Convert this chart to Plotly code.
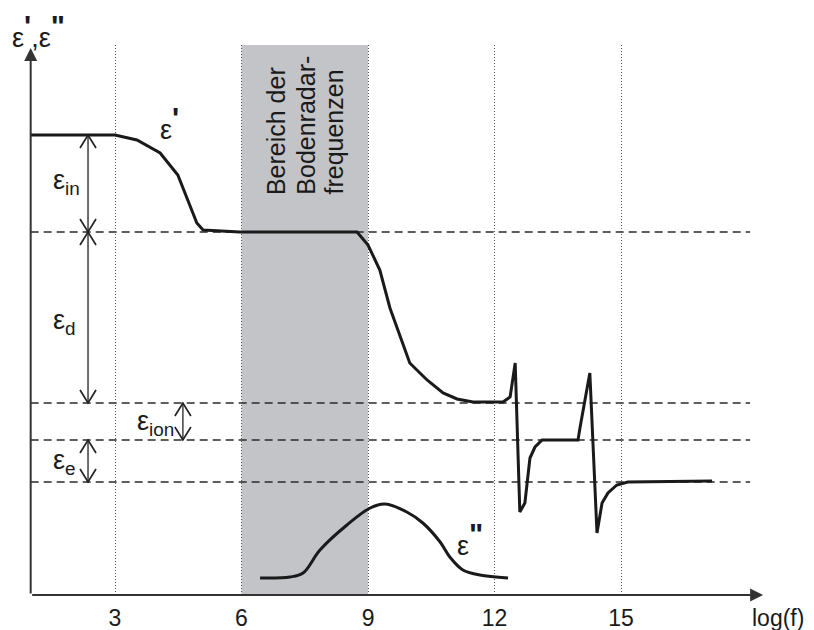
import plotly.graph_objects as go

# ---------------- data ----------------
# real part eps' versus log(f)
eps1_x = [1.0, 3.0, 3.52, 4.07, 4.49, 4.73, 4.94, 5.09, 5.96, 8.74, 9.0, 9.28, 9.52,
          9.99, 10.40, 10.78, 11.11, 11.49, 12.2, 12.37, 12.49, 12.60, 12.72, 12.84,
          12.96, 13.13, 13.98, 14.03, 14.26, 14.43, 14.55, 14.69, 14.90, 15.16, 17.16]
eps1_y = [46.0, 46.0, 45.5, 44.2, 42.0, 39.5, 37.2, 36.5, 36.3, 36.3, 35.0, 32.5, 28.7,
          23.2, 21.5, 20.2, 19.6, 19.3, 19.3, 19.8, 23.2, 8.3, 9.2, 13.7,
          14.8, 15.5, 15.5, 16.8, 22.2, 6.2, 9.2, 10.2, 11.0, 11.3, 11.4]
# imaginary part eps''
eps2_x = [6.44, 7.15, 7.46, 7.86, 8.50, 9.05, 9.40, 9.92, 10.30, 10.71, 10.94, 11.25, 11.65, 12.32]
eps2_y = [1.7, 1.8, 2.2, 4.5, 7.0, 8.7, 9.1, 8.3, 7.2, 5.3, 3.8, 2.5, 2.0, 1.7]

# plateau levels (top to bottom)
levels = [46.0, 36.3, 19.2, 15.5, 11.3]
dashed_levels = [36.3, 19.2, 15.5, 11.3]

tick_vals = [3, 6, 9, 12, 15]
tick_text = ["3", "6", "9", "12", "15"]

radar_band = [6, 9]
band_lines = ["Bereich der", "Bodenradar-", "frequenzen"]

X_MIN, X_MAX = 0.5098, 19.007
AX_X0 = 1.0
DASH_END = 18.06
FONT = "Liberation Sans, Arial, sans-serif"
TXT = "#1a1a1a"

fig = go.Figure()

fig.add_trace(go.Scatter(x=eps1_x, y=eps1_y, mode="lines",
                         line=dict(color="#1a1a1a", width=3), hoverinfo="skip"))
fig.add_trace(go.Scatter(x=eps2_x, y=eps2_y, mode="lines", line_shape="spline",
                         line=dict(color="#1a1a1a", width=3), hoverinfo="skip"))

shapes = []
for lv in dashed_levels:
    shapes.append(dict(type="line", xref="x", yref="y", x0=AX_X0, x1=DASH_END, y0=lv, y1=lv,
                       line=dict(color="#2a2a2a", width=1.3, dash="8px,5px"), layer="below"))
shapes.append(dict(type="rect", xref="x", yref="paper", x0=radar_band[0], x1=radar_band[1],
                   y0=0, y1=1, fillcolor="#c3c4c7", line=dict(width=0), layer="below"))

ARROW_COL = "#222222"
UP_V = "M-8,-13 L0,0 L8,-13"      # tip at anchor, points up
DOWN_V = "M-8,13 L0,0 L8,13"      # tip at anchor, points down


def double_arrow(xv, y_top, y_bot):
    out = [dict(type="line", xref="x", yref="y", x0=xv, x1=xv, y0=y_top, y1=y_bot,
                line=dict(color=ARROW_COL, width=1.3))]
    out.append(dict(type="path", xref="x", yref="y", xsizemode="pixel", ysizemode="pixel",
                    xanchor=xv, yanchor=y_top, path=UP_V,
                    line=dict(color=ARROW_COL, width=1.7)))
    out.append(dict(type="path", xref="x", yref="y", xsizemode="pixel", ysizemode="pixel",
                    xanchor=xv, yanchor=y_bot, path=DOWN_V,
                    line=dict(color=ARROW_COL, width=1.7)))
    return out


shapes += double_arrow(2.36, levels[0], levels[1])
shapes += double_arrow(2.36, levels[1], levels[2])
shapes += double_arrow(4.61, levels[2], levels[3])
shapes += double_arrow(2.36, levels[3], levels[4])
fig.update_layout(shapes=shapes)

ann = []
# axes with arrows
ann.append(dict(x=AX_X0, y=54.7, ax=AX_X0, ay=0, xref="x", yref="y", axref="x", ayref="y",
                text="", showarrow=True, arrowhead=2, arrowsize=1.3, arrowwidth=2,
                arrowcolor="#333333", standoff=0))
ann.append(dict(x=18.37, y=0, ax=AX_X0, ay=0, xref="x", yref="y", axref="x", ayref="y",
                text="", showarrow=True, arrowhead=2, arrowsize=1.3, arrowwidth=2,
                arrowcolor="#333333", standoff=0))


def label(x, y, text, size=27, **kw):
    d = dict(x=x, y=y, xref="x", yref="y", text=text, showarrow=False,
             xanchor="center", yanchor="middle",
             font=dict(family=FONT, size=size, color=TXT))
    d.update(kw)
    return d


PRIME1 = "<sup><span style='font-size:30px;font-weight:bold'>'</span></sup>"
PRIME2 = "<sup><span style='font-size:30px;font-weight:bold'>\"</span></sup>"

ann.append(label(4.30, 47.2, "ε" + PRIME1))
ann.append(label(1.84, 41.3, "ε<sub>in</sub>"))
ann.append(label(1.81, 27.3, "ε<sub>d</sub>"))
ann.append(label(3.95, 17.2, "ε<sub>ion</sub>"))
ann.append(label(1.81, 13.3, "ε<sub>e</sub>"))
ann.append(label(11.42, 5.6, "ε" + PRIME2))
ann.append(dict(x=0.036, y=1.025, xref="paper", yref="paper",
                text="ε" + PRIME1 + ",ε" + PRIME2, showarrow=False,
                xanchor="center", yanchor="middle",
                font=dict(family=FONT, size=27, color=TXT)))
ann.append(dict(x=0.985, y=-0.042, xref="paper", yref="paper", text="log(f)", showarrow=False,
                xanchor="center", yanchor="middle",
                font=dict(family=FONT, size=23, color=TXT)))

for xv, line in zip([6.82, 7.51, 8.17], band_lines):
    ann.append(label(xv, 39.8, line, size=25, textangle=-90, yanchor="bottom"))

fig.update_layout(
    annotations=ann,
    width=814, height=630,
    margin=dict(l=10, r=24, t=45, b=35, autoexpand=False),
    paper_bgcolor="white", plot_bgcolor="white",
    showlegend=False,
    xaxis=dict(range=[X_MIN, X_MAX], tickvals=tick_vals, ticktext=tick_text,
               showgrid=True, griddash="1px,2px", gridcolor="#555555", gridwidth=1,
               zeroline=False, showline=False, ticks="", ticklabelstandoff=7,
               automargin=False,
               tickfont=dict(family=FONT, size=23, color=TXT), fixedrange=True),
    yaxis=dict(range=[0, 55], showgrid=False, zeroline=False, showline=False,
               showticklabels=False, ticks="", fixedrange=True, automargin=False),
)

fig.write_html("out.html")
